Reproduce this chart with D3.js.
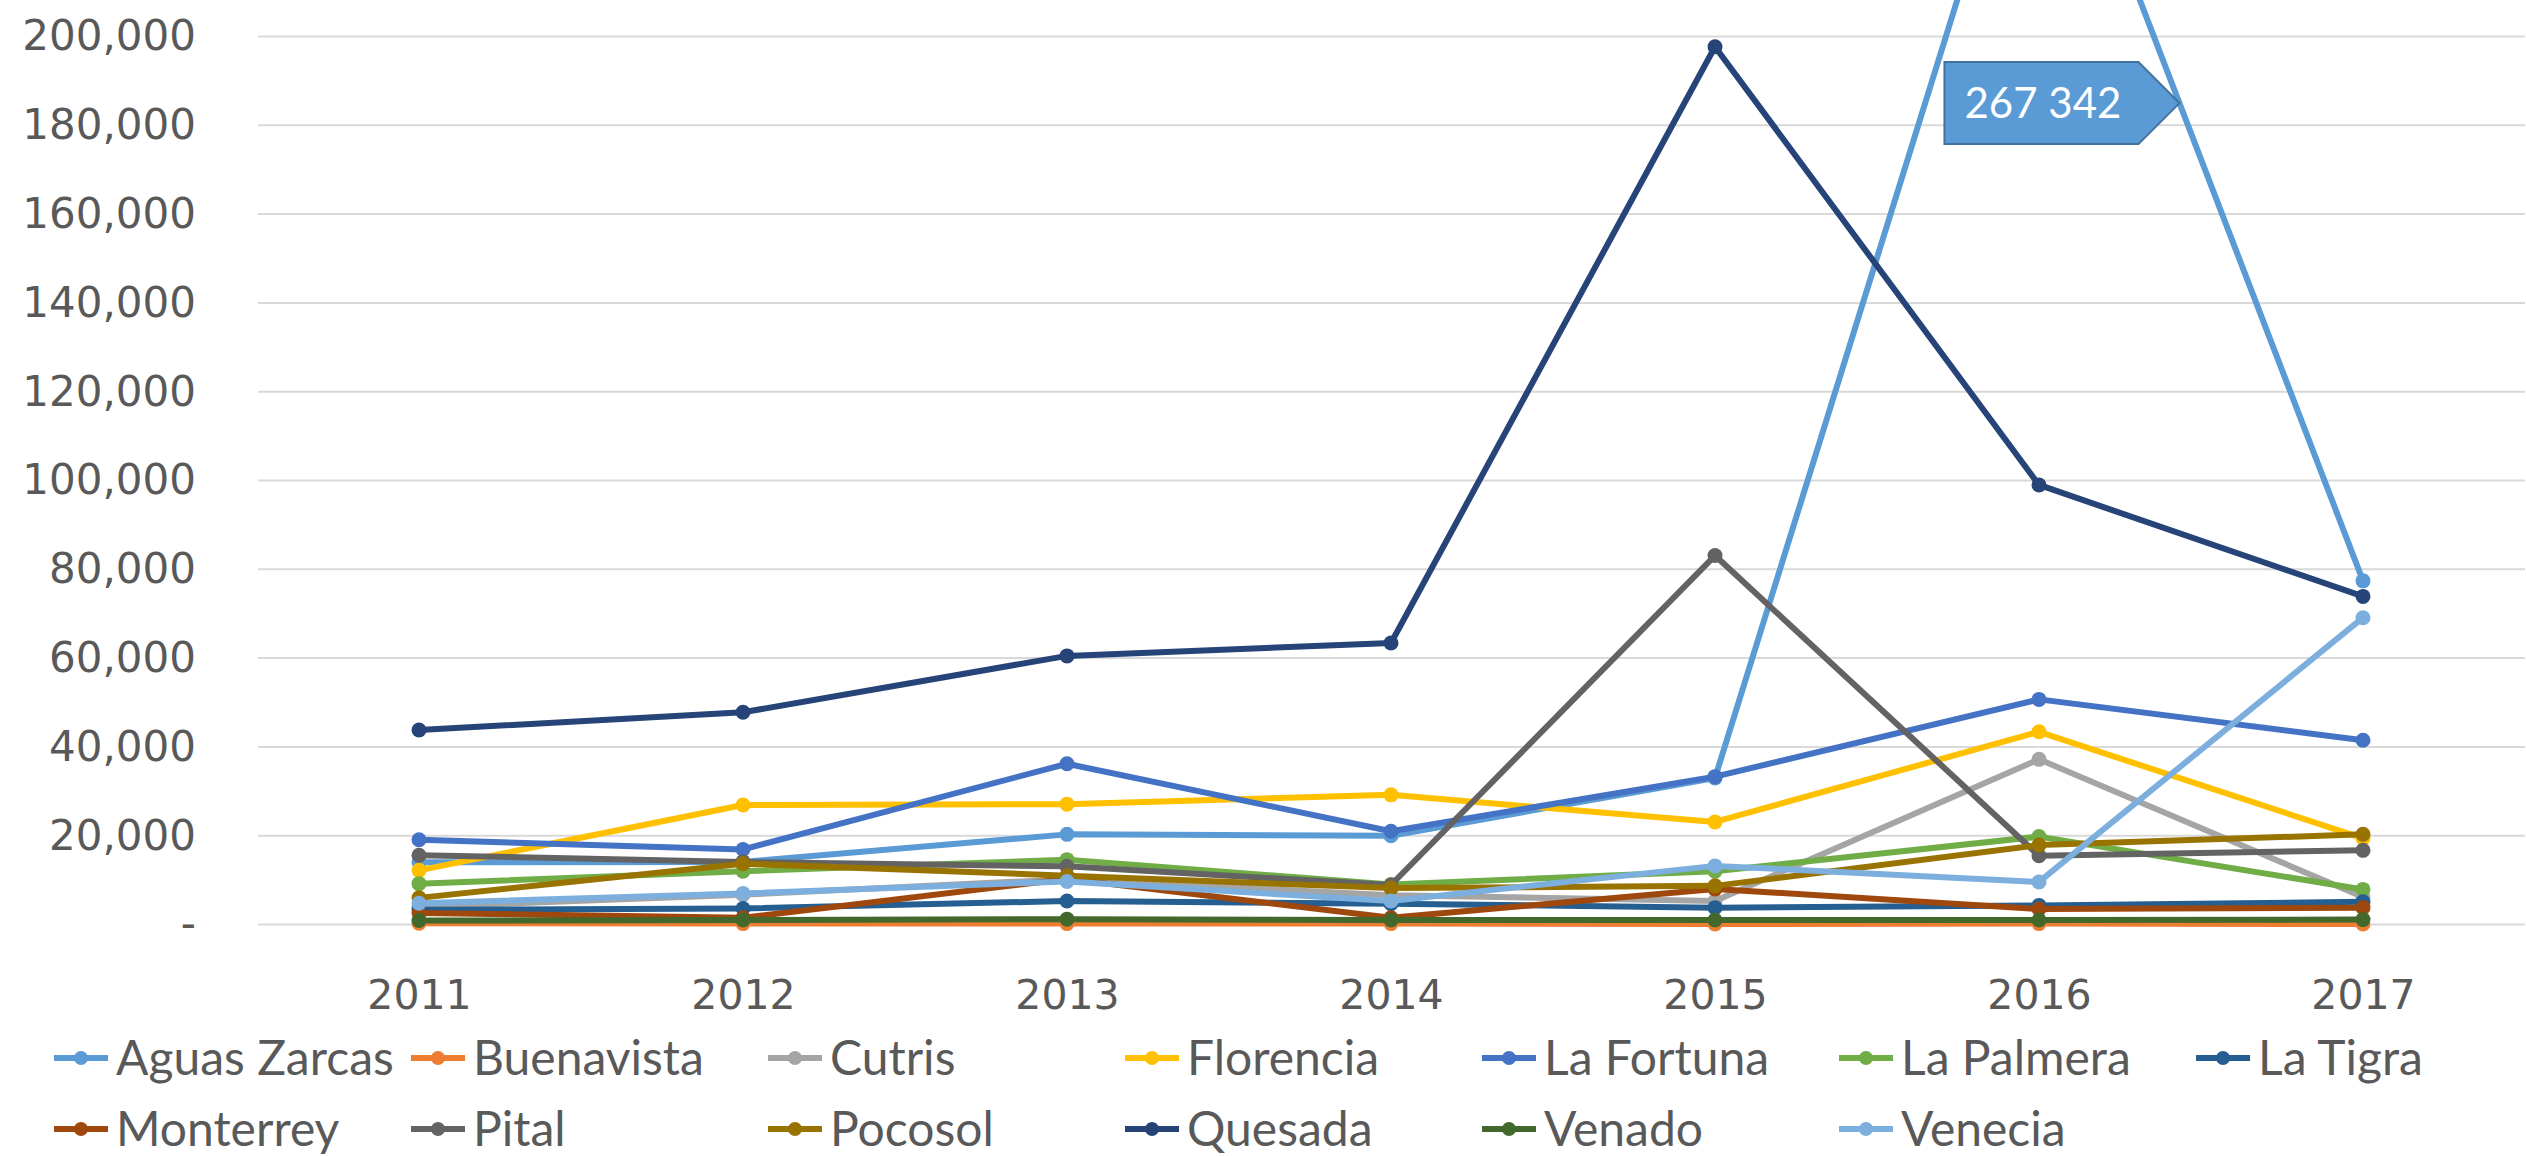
<!DOCTYPE html>
<html>
<head>
<meta charset="utf-8">
<script src="https://cdn.jsdelivr.net/npm/d3@7"></script>
<style>
body { margin: 0; background: #fff; }
svg { display: block; }
</style>
</head>
<body>
<svg id="chart" width="2526" height="1156"></svg>
<script>
const years = ["2011", "2012", "2013", "2014", "2015", "2016", "2017"];
const yTicks = [0, 20000, 40000, 60000, 80000, 100000, 120000, 140000, 160000, 180000, 200000];

const seriesNames = ["Aguas Zarcas", "Buenavista", "Cutris", "Florencia", "La Fortuna", "La Palmera", "La Tigra",
    "Monterrey", "Pital", "Pocosol", "Quesada", "Venado", "Venecia"];
const seriesColors = ["#5B9BD5", "#ED7D31", "#A5A5A5", "#FFC000", "#4472C4", "#70AD47", "#255E91",
    "#9E480E", "#636363", "#997300", "#264478", "#43682B", "#7CAFDD"];

const aguasZarcas = [14000, 14100, 20300, 20000, 33000, 267342, 77400];
const buenavista = [300, 200, 200, 200, 100, 200, 100];
const cutris = [4000, 6700, 10200, 6600, 5300, 37200, 6200];
const florencia = [12200, 26900, 27100, 29200, 23100, 43400, 19400];
const laFortuna = [19100, 16900, 36200, 21000, 33300, 50700, 41500];
const laPalmera = [9200, 12000, 14600, 9000, 12000, 19800, 7900];
const laTigra = [3300, 3600, 5300, 4700, 3800, 4300, 5100];
const monterrey = [2600, 1500, 10300, 1500, 8000, 3500, 3800];
const pital = [15600, 14100, 13100, 8900, 83100, 15500, 16700];
const pocosol = [6000, 13700, 11000, 8200, 8700, 17900, 20300];
const quesada = [43800, 47800, 60500, 63400, 197700, 99000, 73900];
const venado = [900, 1000, 1200, 1000, 1000, 1000, 1100];
const venecia = [4800, 7000, 9700, 5300, 13200, 9600, 69100];

const seriesValues = [aguasZarcas, buenavista, cutris, florencia, laFortuna, laPalmera, laTigra,
    monterrey, pital, pocosol, quesada, venado, venecia];

// callout on the clipped peak
const calloutText = "267 342";
const calloutSeries = 0;
const calloutYear = 5;
const calloutValue = 185000;

function draw() {
    const plot = { left: 257, right: 2525, top: 36.5, bottom: 924.5 };
    const svg = d3.select("#chart");

    const x = d3.scalePoint().domain(years).range([plot.left, plot.right]).padding(0.5);
    const y = d3.scaleLinear().domain([0, 200000]).range([plot.bottom, plot.top]);

    // gridlines
    svg.append("g")
        .selectAll("line")
        .data(yTicks)
        .enter().append("line")
        .attr("x1", plot.left + 1)
        .attr("x2", plot.right)
        .attr("y1", d => y(d))
        .attr("y2", d => y(d))
        .attr("stroke", "#D9D9D9")
        .attr("stroke-width", 2);

    // y axis labels
    const yAxis = svg.append("g")
        .attr("transform", "translate(" + plot.left + ",0)")
        .call(d3.axisLeft(y).tickValues(yTicks).tickSize(0).tickPadding(61)
            .tickFormat(d => d === 0 ? "-" : d3.format(",")(d)));
    yAxis.select(".domain").remove();
    yAxis.selectAll("text")
        .attr("font-family", "'DejaVu Sans', Verdana, sans-serif")
        .attr("font-size", 42)
        .attr("fill", "#595959");

    // x axis labels
    const xAxis = svg.append("g")
        .attr("transform", "translate(0," + plot.bottom + ")")
        .call(d3.axisBottom(x).tickSize(0).tickPadding(55));
    xAxis.select(".domain").remove();
    xAxis.selectAll("text")
        .attr("font-family", "'DejaVu Sans', Verdana, sans-serif")
        .attr("font-size", 41)
        .attr("fill", "#595959");

    const line = d3.line().x((d, i) => x(years[i])).y(d => y(d));

    const series = svg.append("g")
        .selectAll("g")
        .data(seriesValues)
        .enter().append("g");

    series.append("path")
        .attr("d", d => line(d))
        .attr("fill", "none")
        .attr("stroke", (d, i) => seriesColors[i])
        .attr("stroke-width", 6)
        .attr("stroke-linejoin", "round");

    series.each(function(vals, si) {
        d3.select(this).selectAll("circle")
            .data(vals)
            .enter().append("circle")
            .attr("cx", (d, i) => x(years[i]))
            .attr("cy", d => y(d))
            .attr("r", 7.5)
            .attr("fill", seriesColors[si]);
    });

    // callout: arrow box whose tip touches the falling segment
    const v0 = seriesValues[calloutSeries][calloutYear];
    const v1 = seriesValues[calloutSeries][calloutYear + 1];
    const t = (v0 - calloutValue) / (v0 - v1);
    const tipX = x(years[calloutYear]) + t * (x(years[calloutYear + 1]) - x(years[calloutYear]));
    const tipY = y(calloutValue);
    const boxW = 194, arrowW = 41, halfH = 41;
    const left = tipX - arrowW - boxW;
    svg.append("path")
        .attr("d", "M" + left + "," + (tipY - halfH) +
            "L" + (tipX - arrowW) + "," + (tipY - halfH) +
            "L" + tipX + "," + tipY +
            "L" + (tipX - arrowW) + "," + (tipY + halfH) +
            "L" + left + "," + (tipY + halfH) + "Z")
        .attr("fill", "#5B9BD5")
        .attr("stroke", "#41719C")
        .attr("stroke-width", 2);
    svg.append("text")
        .attr("x", left + 20)
        .attr("y", tipY + 15)
        .attr("font-family", "Lato, 'Open Sans', sans-serif")
        .attr("font-size", 42)
        .attr("fill", "#fff")
        .text(calloutText);

    // legend
    const colW = 357;
    const legend = svg.append("g")
        .selectAll("g")
        .data(seriesNames)
        .enter().append("g")
        .attr("transform", (d, i) => "translate(" + (54 + (i % 7) * colW) + "," + (i < 7 ? 1058 : 1129) + ")");
    legend.append("line")
        .attr("x1", 0).attr("x2", 54)
        .attr("stroke", (d, i) => seriesColors[i])
        .attr("stroke-width", 6);
    legend.append("circle")
        .attr("cx", 27).attr("r", 7)
        .attr("fill", (d, i) => seriesColors[i]);
    legend.append("text")
        .attr("x", 62)
        .attr("y", 17)
        .attr("font-family", "Lato, 'Open Sans', sans-serif")
        .attr("font-size", 48)
        .attr("fill", "#595959")
        .text(d => d);
}

draw();
</script>
</body>
</html>
